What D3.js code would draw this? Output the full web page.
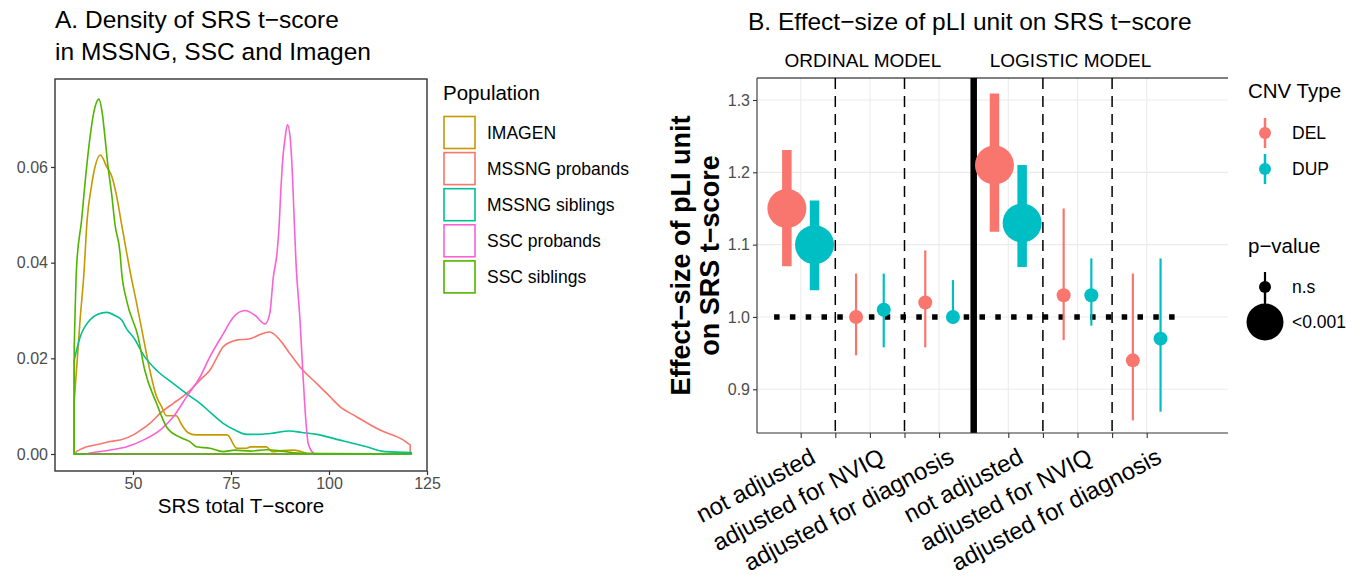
<!DOCTYPE html>
<html>
<head>
<meta charset="utf-8">
<script src="https://cdn.jsdelivr.net/npm/d3@7"></script>
<style>
  body { margin: 0; background: #fff; }
  text { font-family: "Liberation Sans", Arial, sans-serif; }
</style>
</head>
<body>
<script>
// ---- panel A data: density of SRS t-score, [score, density]
const populations = ["IMAGEN", "MSSNG probands", "MSSNG siblings", "SSC probands", "SSC siblings"];
const popColors = ["#C49A00", "#F8766D", "#00C094", "#FB61D7", "#53B400"];

const imagenDensity = [[35,0.011],[35.8,0.02],[36.5,0.028],[37.5,0.038],[38.3,0.049],[39.4,0.056],[40.3,0.060],[41.7,0.0625],[43.3,0.060],[44.6,0.058],[45.8,0.054],[47.1,0.048],[48.4,0.042],[49.3,0.038],[50.8,0.032],[52.6,0.0245],[54.3,0.0175],[56,0.012],[57.3,0.0099],[58.5,0.008],[61,0.008],[62.5,0.006],[64,0.0045],[66,0.004],[74,0.004],[76.5,0.0012],[79,0.0012],[80,0.0015],[84,0.0015],[85.5,0.0005],[88,0.0007],[91,0.0008],[94,0.0002]];
const mssngProbandsDensity = [[35.5,0.0005],[38.2,0.0015],[41,0.002],[44.1,0.0026],[47,0.003],[50.1,0.004],[52,0.005],[54.3,0.0064],[56.9,0.0085],[60.3,0.0106],[63,0.0122],[65.4,0.014],[67.5,0.0158],[69.6,0.0175],[71.5,0.0203],[73,0.0224],[76.4,0.0238],[79.8,0.0241],[82.8,0.0251],[84.9,0.0255],[87.5,0.0238],[90,0.021],[92.6,0.0182],[96.9,0.0147],[100,0.0122],[102.8,0.0099],[107,0.0078],[113,0.005],[119,0.0029],[120.7,0.0019]];
const mssngSiblingsDensity = [[35,0.0196],[36.5,0.0244],[39,0.028],[41,0.0292],[43.3,0.0296],[45.5,0.0289],[47.1,0.028],[48.5,0.026],[50.1,0.0244],[53,0.0203],[56,0.0175],[60.3,0.0147],[64.5,0.0121],[67.1,0.0106],[70,0.0085],[73,0.0064],[76,0.005],[79,0.0041],[82,0.0041],[85,0.0043],[90,0.0048],[93,0.0045],[96.9,0.0041],[102.8,0.0029],[109.6,0.0015],[114.3,0.0005],[121,0.0003]];
const sscProbandsDensity = [[38,0],[39.8,0.0003],[44,0.0008],[48.4,0.0015],[52.6,0.0029],[56.9,0.005],[60.3,0.0078],[63.7,0.012],[67.1,0.0161],[69.6,0.0203],[73,0.0251],[75.6,0.0286],[78.6,0.030],[81.1,0.029],[83.7,0.0272],[84.9,0.0294],[85.8,0.037],[86.8,0.0425],[87.3,0.048],[87.7,0.055],[88.1,0.0606],[88.8,0.0661],[89.4,0.0689],[90.1,0.0661],[90.7,0.0578],[91.1,0.0494],[91.6,0.0397],[92.6,0.028],[93.3,0.0175],[93.9,0.0092],[94.7,0.0022],[96,0.0002]];
const sscSiblingsDensity = [[35,0.022],[35.6,0.039],[36.9,0.049],[37.8,0.057],[39,0.066],[39.9,0.071],[41.3,0.0742],[42.2,0.071],[43,0.065],[43.5,0.061],[44.6,0.054],[45.4,0.048],[46.7,0.042],[47.1,0.038],[48.4,0.032],[51.3,0.0245],[53,0.0175],[56,0.0106],[58.6,0.0056],[62,0.0035],[64.5,0.0026],[66.2,0.0015],[69.6,0.0012],[73,0.0005],[76,0.0008],[80,0.0006],[84,0.0009],[88,0.0006],[92,0.0002],[100,0.0001],[121,0]];
const densities = [imagenDensity, mssngProbandsDensity, mssngSiblingsDensity, sscProbandsDensity, sscSiblingsDensity];
const scoreTicks = [50, 75, 100, 125];
const densityTicks = [0, 0.02, 0.04, 0.06];

// ---- panel B data: effect size per pLI unit
const models = ["ORDINAL MODEL", "LOGISTIC MODEL"];
const adjustments = ["not adjusted", "adjusted for NVIQ", "adjusted for diagnosis",
                     "not adjusted", "adjusted for NVIQ", "adjusted for diagnosis"];
const cnvTypes = ["DEL", "DUP"];
const cnvColors = ["#F8766D", "#00BFC4"];
const pLevels = ["n.s", "<0.001"];
const delEstimate = [1.15, 1.00, 1.02, 1.21, 1.03, 0.94];
const delLower    = [1.07, 0.947, 0.958, 1.118, 0.968, 0.857];
const delUpper    = [1.231, 1.06, 1.092, 1.309, 1.15, 1.06];
const delP        = ["<0.001", "n.s", "n.s", "<0.001", "n.s", "n.s"];
const dupEstimate = [1.10, 1.01, 1.00, 1.13, 1.03, 0.97];
const dupLower    = [1.037, 0.958, 0.995, 1.069, 0.988, 0.869];
const dupUpper    = [1.161, 1.06, 1.051, 1.21, 1.081, 1.081];
const dupP        = ["<0.001", "n.s", "n.s", "<0.001", "n.s", "n.s"];
const effectTicks = [0.9, 1.0, 1.1, 1.2, 1.3];

const svg = d3.select("body").append("svg").attr("width", 1361).attr("height", 577);

// ================= panel A =================
const xA = d3.scaleLinear().domain([50, 125]).range([133, 427]);
const yA = d3.scaleLinear().domain([0, 0.06]).range([454, 167]);
const color = d3.scaleOrdinal().domain(populations).range(popColors);

svg.append("text").attr("x", 55).attr("y", 28).attr("font-size", 24.5).text("A. Density of SRS t−score");
svg.append("text").attr("x", 55).attr("y", 60).attr("font-size", 24.5).text("in MSSNG, SSC and Imagen");

const gA = svg.append("g");
const area = d3.area().x(d => xA(d[0])).y0(yA(0)).y1(d => yA(d[1])).curve(d3.curveMonotoneX);
gA.selectAll("path.dens").data(densities).enter().append("path")
  .attr("class", "dens")
  .attr("d", area)
  .attr("fill", "none")
  .attr("stroke", (d, i) => color(populations[i]))
  .attr("stroke-width", 1.6);

gA.append("rect").attr("x", 55).attr("y", 79).attr("width", 372).attr("height", 392)
  .attr("fill", "none").attr("stroke", "#333").attr("stroke-width", 1.4);

const axA = svg.append("g").attr("transform", "translate(0,471)")
  .call(d3.axisBottom(xA).tickValues(scoreTicks).tickSize(4).tickPadding(3));
const ayA = svg.append("g").attr("transform", "translate(55,0)")
  .call(d3.axisLeft(yA).tickValues(densityTicks).tickFormat(d3.format(".2f")).tickSize(4).tickPadding(3));
[axA, ayA].forEach(g => {
  g.select(".domain").remove();
  g.selectAll(".tick line").attr("stroke", "#333").attr("stroke-width", 1.2);
  g.selectAll(".tick text").attr("font-size", 16).attr("fill", "#4D4D4D")
    .attr("font-family", "Liberation Sans, Arial, sans-serif");
});
svg.append("text").attr("x", 241).attr("y", 513).attr("text-anchor", "middle")
  .attr("font-size", 20.5).text("SRS total T−score");

// legend A
svg.append("text").attr("x", 443).attr("y", 100).attr("font-size", 20.5).text("Population");
const legA = svg.append("g").selectAll("g").data(populations).enter().append("g")
  .attr("transform", (d, i) => `translate(443,${132.5 + i * 36.1})`);
legA.append("rect").attr("x", 1).attr("y", -16).attr("width", 31).attr("height", 32)
  .attr("fill", "#fff").attr("stroke", d => color(d)).attr("stroke-width", 1.6);
legA.append("text").attr("x", 44).attr("y", 0).attr("dy", "0.35em").attr("font-size", 17.5).text(d => d);

// ================= panel B =================
const xB = d3.scaleLinear().domain([1, 6]).range([800.7, 1146.7]);
const yB = d3.scaleLinear().domain([0.9, 1.3]).range([389.3, 100]);
const pL = 757, pR = 1228, pT = 78, pB = 433;
const rScale = d3.scaleOrdinal().domain(pLevels).range([7, 19.5]);
const lwScale = d3.scaleOrdinal().domain(pLevels).range([2.2, 9.5]);
const cColor = d3.scaleOrdinal().domain(cnvTypes).range(cnvColors);

svg.append("text").attr("x", 748).attr("y", 30).attr("font-size", 24.5).text("B. Effect−size of pLI unit on SRS t−score");
svg.selectAll("text.strip").data(models).enter().append("text").attr("class", "strip")
  .attr("x", (d, i) => xB(2 + i * 3) - 7).attr("y", 67).attr("text-anchor", "middle")
  .attr("font-size", 19).text(d => d);

const gB = svg.append("g");
// grid
gB.selectAll("line.hg").data(effectTicks).enter().append("line")
  .attr("x1", pL).attr("x2", pR).attr("y1", d => yB(d)).attr("y2", d => yB(d))
  .attr("stroke", "#EBEBEB").attr("stroke-width", 1.1);
gB.selectAll("line.vg").data(d3.range(1, 7)).enter().append("line")
  .attr("y1", pT).attr("y2", pB).attr("x1", d => xB(d)).attr("x2", d => xB(d))
  .attr("stroke", "#EBEBEB").attr("stroke-width", 1.1);

// dashed separators and the thick model separator
gB.selectAll("line.sep").data([1.5, 2.5, 4.5, 5.5]).enter().append("line")
  .attr("x1", d => xB(d)).attr("x2", d => xB(d)).attr("y1", pT).attr("y2", pB)
  .attr("stroke", "#000").attr("stroke-width", 1.5).attr("stroke-dasharray", "11,7");
gB.append("line").attr("x1", xB(3.5)).attr("x2", xB(3.5)).attr("y1", pT).attr("y2", pB)
  .attr("stroke", "#000").attr("stroke-width", 6.5);

// dotted reference line at 1
gB.append("line").attr("x1", xB(0.5)).attr("x2", xB(6.5)).attr("y1", yB(1)).attr("y2", yB(1))
  .attr("stroke", "#000").attr("stroke-width", 5.5)
  .attr("stroke-dasharray", "5.5,10.3").attr("stroke-dashoffset", -8);

// point ranges
const rows = [];
adjustments.forEach((a, i) => {
  rows.push({ type: "DEL", pos: i + 1 - 0.2, est: delEstimate[i], lo: delLower[i], hi: delUpper[i], p: delP[i] });
});
adjustments.forEach((a, i) => {
  rows.push({ type: "DUP", pos: i + 1 + 0.2, est: dupEstimate[i], lo: dupLower[i], hi: dupUpper[i], p: dupP[i] });
});
const pr = gB.selectAll("g.pr").data(rows).enter().append("g").attr("class", "pr");
pr.append("line").attr("x1", d => xB(d.pos)).attr("x2", d => xB(d.pos))
  .attr("y1", d => yB(d.lo)).attr("y2", d => yB(d.hi))
  .attr("stroke", d => cColor(d.type)).attr("stroke-width", d => lwScale(d.p));
pr.append("circle").attr("cx", d => xB(d.pos)).attr("cy", d => yB(d.est))
  .attr("r", d => rScale(d.p)).attr("fill", d => cColor(d.type));

// axes B
gB.append("line").attr("x1", pL).attr("x2", pR).attr("y1", pT).attr("y2", pT).attr("stroke", "#000").attr("stroke-width", 1);
const ayB = svg.append("g").attr("transform", `translate(${pL},0)`)
  .call(d3.axisLeft(yB).tickValues(effectTicks).tickFormat(d3.format(".1f")).tickSize(4).tickPadding(3));
ayB.select(".domain").attr("d", `M0,${pT}V${pB}`).attr("stroke", "#333").attr("stroke-width", 1.1);
const axB = svg.append("g").attr("transform", `translate(0,${pB})`)
  .call(d3.axisBottom(xB).tickValues([1, 1.5, 2, 2.5, 3, 4, 4.5, 5, 5.5, 6]).tickFormat("").tickSize(5));
axB.select(".domain").attr("d", `M${pL},0H${pR}`).attr("stroke", "#333").attr("stroke-width", 1.1);
[ayB, axB].forEach(g => {
  g.selectAll(".tick line").attr("stroke", "#333").attr("stroke-width", 1.1);
  g.selectAll(".tick text").attr("font-size", 16).attr("fill", "#4D4D4D")
    .attr("font-family", "Liberation Sans, Arial, sans-serif");
});

// rotated category labels
svg.selectAll("text.cat").data(adjustments).enter().append("text").attr("class", "cat")
  .attr("transform", (d, i) => `translate(${xB(i + 1) + 8},${pB + 13}) rotate(-28)`)
  .attr("text-anchor", "end").attr("dy", "0.75em")
  .attr("font-size", 24).text(d => d);

// y title
const yt = svg.append("text").attr("transform", `translate(0,${(pT + pB) / 2}) rotate(-90)`)
  .attr("text-anchor", "middle").attr("font-size", 27).attr("font-weight", "bold");
yt.append("tspan").attr("x", 0).attr("y", 690).text("Effect−size of pLI unit");
yt.append("tspan").attr("x", 0).attr("y", 719).text("on SRS t−score");

// legends B
svg.append("text").attr("x", 1248).attr("y", 98).attr("font-size", 20.5).text("CNV Type");
const legC = svg.append("g").selectAll("g").data(cnvTypes).enter().append("g")
  .attr("transform", (d, i) => `translate(1265,${133 + i * 36})`);
legC.append("line").attr("y1", -15).attr("y2", 15).attr("stroke", d => cColor(d)).attr("stroke-width", 2.5);
legC.append("circle").attr("r", 6).attr("fill", d => cColor(d));
legC.append("text").attr("x", 27).attr("dy", "0.35em").attr("font-size", 17.5).text(d => d);

svg.append("text").attr("x", 1248).attr("y", 253).attr("font-size", 20.5).text("p−value");
const pKeyY = [287, 322];
const legP = svg.append("g").selectAll("g").data(pLevels).enter().append("g")
  .attr("transform", (d, i) => `translate(1265,${pKeyY[i]})`);
legP.append("line").attr("y1", (d, i) => i ? -29 : -15).attr("y2", (d, i) => i ? 0 : 15)
  .attr("stroke", "#000").attr("stroke-width", 2.2);
legP.append("circle").attr("r", (d, i) => i ? 18.5 : 6).attr("fill", "#000");
legP.append("text").attr("x", 27).attr("dy", "0.35em").attr("font-size", 17.5).text(d => d);
</script>
</body>
</html>
